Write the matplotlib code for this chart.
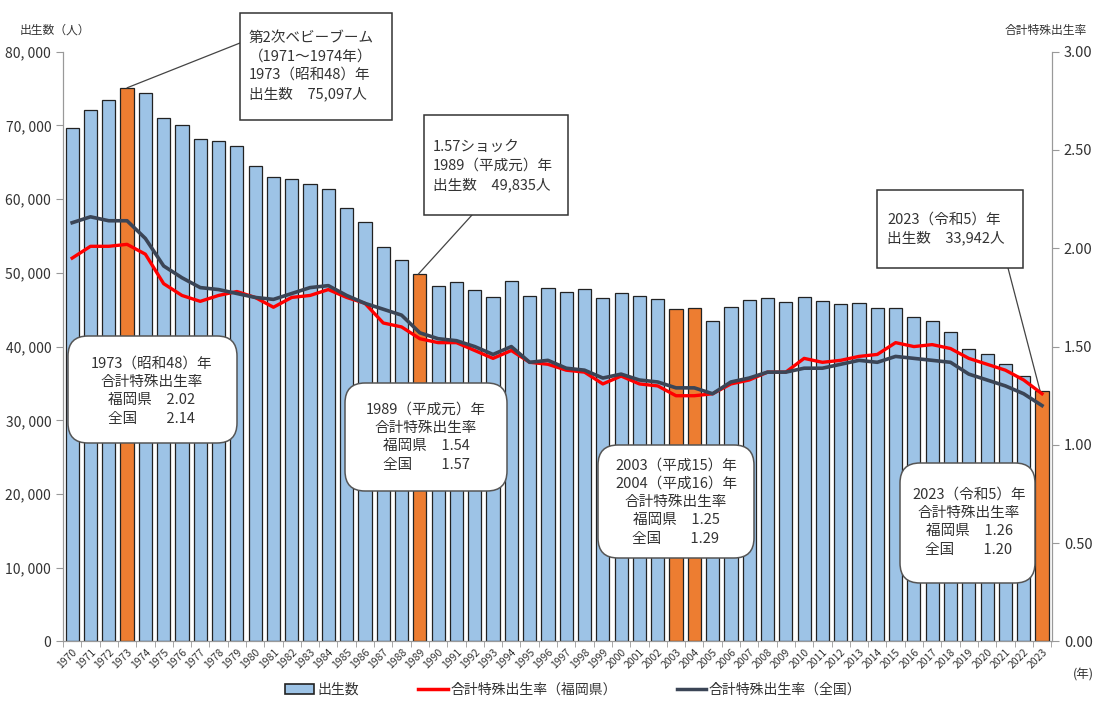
import matplotlib
matplotlib.use("Agg")
import matplotlib.pyplot as plt
from matplotlib.patches import Patch, FancyBboxPatch
from matplotlib.lines import Line2D
from matplotlib.ticker import FuncFormatter
from matplotlib.transforms import IdentityTransform
import numpy as np

plt.rcParams['font.family'] = ['Noto Sans CJK JP', 'DejaVu Sans']

years = list(range(1970, 2024))
births = [69640, 72030, 73480, 75097, 74330, 70990, 70000, 68150, 67830, 67150,
          64450, 63000, 62690, 62010, 61380, 58840, 56960, 53530, 51760, 49835,
          48240, 48780, 47650, 46790, 48910, 46920, 47920, 47460, 47790, 46650,
          47330, 46920, 46510, 45070, 45210, 43510, 45350, 46340, 46650, 46020,
          46790, 46200, 45750, 45890, 45210, 45210, 44070, 43490, 42040, 39730,
          39050, 37610, 36020, 33942]
tfr_fukuoka = [1.95, 2.01, 2.01, 2.02, 1.97, 1.82, 1.76, 1.73, 1.76, 1.78,
               1.75, 1.70, 1.75, 1.76, 1.79, 1.75, 1.72, 1.62, 1.60, 1.54,
               1.52, 1.52, 1.48, 1.44, 1.48, 1.42, 1.41, 1.38, 1.37, 1.31,
               1.35, 1.31, 1.30, 1.25, 1.25, 1.26, 1.31, 1.33, 1.37, 1.37,
               1.44, 1.42, 1.43, 1.45, 1.46, 1.52, 1.50, 1.51, 1.49, 1.44,
               1.41, 1.38, 1.33, 1.26]
tfr_japan = [2.13, 2.16, 2.14, 2.14, 2.05, 1.91, 1.85, 1.80, 1.79, 1.77,
             1.75, 1.74, 1.77, 1.80, 1.81, 1.76, 1.72, 1.69, 1.66, 1.57,
             1.54, 1.53, 1.50, 1.46, 1.50, 1.42, 1.43, 1.39, 1.38, 1.34,
             1.36, 1.33, 1.32, 1.29, 1.29, 1.26, 1.32, 1.34, 1.37, 1.37,
             1.39, 1.39, 1.41, 1.43, 1.42, 1.45, 1.44, 1.43, 1.42, 1.36,
             1.33, 1.30, 1.26, 1.20]
highlight = [1973, 1989, 2003, 2004, 2023]

BLUE = '#9dc3e6'
ORANGE = '#ed7d31'
RED = '#ff0000'
NAVY = '#3b4556'
TXT = '#333333'
W, H = 1096, 702

fig = plt.figure(figsize=(W / 100, H / 100), dpi=100)
ax = fig.add_axes([0.0575, 0.0862, 0.9024, 0.8402])
ax2 = ax.twinx()
ax.set_zorder(1)
ax2.set_zorder(2)
ax2.patch.set_visible(False)

x = np.arange(len(years))
colors = [ORANGE if y in highlight else BLUE for y in years]
ax.bar(x, births, width=0.72, color=colors, edgecolor='#222222', linewidth=0.9)

ax2.plot(x, tfr_fukuoka, color=RED, lw=2.4, zorder=3)
ax2.plot(x, tfr_japan, color=NAVY, lw=2.6, zorder=4)

ax.set_xlim(-0.48, len(years) - 0.45)
ax.set_ylim(0, 80000)
ax2.set_ylim(0, 3.0)
ax.set_yticks(range(0, 80001, 10000))
ax.yaxis.set_major_formatter(FuncFormatter(lambda v, p: '0' if v == 0 else f'{int(v):,}'.replace(',', ', ')))
ax2.set_yticks(np.arange(0, 3.01, 0.5))
ax2.yaxis.set_major_formatter(FuncFormatter(lambda v, p: f'{v:.2f}'))

ax.set_xticks(x)
ax.set_xticklabels([str(y) for y in years], rotation=45, ha='right', rotation_mode='anchor',
                   fontsize=7.5, color=TXT)
ax.tick_params(axis='x', length=0, pad=4)
ax.set_xticks(np.arange(-0.5, len(years), 1.0), minor=True)
ax.tick_params(axis='x', which='minor', length=4, color='#999999')
ax.tick_params(axis='y', length=5, color='#999999', labelsize=10, labelcolor=TXT)
ax2.tick_params(axis='y', length=5, color='#999999', labelsize=10.5, labelcolor=TXT)

for a in (ax, ax2):
    a.spines['top'].set_visible(False)
    for s in ('left', 'right', 'bottom'):
        a.spines[s].set_color('#999999')

fig.text(0.018, 0.952, '出生数（人）', fontsize=8.5, color=TXT)
fig.text(0.992, 0.952, '合計特殊出生率', fontsize=8.5, color=TXT, ha='right')
fig.text(0.998, 0.033, '(年)', fontsize=9, color=TXT, ha='right')


def note(box, text, tx, ty, rounded=False, ha='left'):
    # box given as (left, top, right, bottom) in pixels from the top-left corner
    x0, y0, x1, y1 = box
    style = 'round,pad=0,rounding_size=20' if rounded else 'square,pad=0'
    fig.add_artist(FancyBboxPatch((x0, H - y1), x1 - x0, y1 - y0, boxstyle=style,
                                  transform=IdentityTransform(), fc='white',
                                  ec='#555555' if rounded else '#333333', lw=1.1, zorder=10))
    fig.text(tx, H - ty, text, transform=IdentityTransform(), fontsize=10.5, color=TXT,
             ha=ha, va='center', linespacing=1.4, zorder=11)


def leader(i, px, py, dx=0.0):
    ax.annotate('', xy=(i + dx, births[i]), xytext=(px, H - py), textcoords='figure pixels',
                arrowprops=dict(arrowstyle='-', color='#444444', lw=0.9,
                                shrinkA=0, shrinkB=0), annotation_clip=False)


i73 = years.index(1973)
i89 = years.index(1989)
i03 = years.index(2003)
i23 = years.index(2023)

note((240, 13, 392, 120), '第2次ベビーブーム\n（1971～1974年）\n1973（昭和48）年\n出生数　75,097人', 249, 66)
leader(i73, 240, 43)
note((424, 115, 568, 215), '1.57ショック\n1989（平成元）年\n出生数　49,835人', 433, 166)
leader(i89, 472, 215, dx=-0.08)
note((877, 190, 1023, 268), '2023（令和5）年\n出生数　33,942人', 887, 229)
leader(i23, 1008, 268, dx=-0.1)

note((68, 336, 237, 443), '1973（昭和48）年\n合計特殊出生率\n福岡県　%.2f\n全国　　%.2f'
     % (tfr_fukuoka[i73], tfr_japan[i73]), 152, 391, rounded=True, ha='center')
note((345, 383, 507, 491), '1989（平成元）年\n合計特殊出生率\n福岡県　%.2f\n全国　　%.2f'
     % (tfr_fukuoka[i89], tfr_japan[i89]), 426, 437, rounded=True, ha='center')
note((598, 445, 754, 558), '2003（平成15）年\n2004（平成16）年\n合計特殊出生率\n福岡県　%.2f\n全国　　%.2f'
     % (tfr_fukuoka[i03], tfr_japan[i03]), 676, 502, rounded=True, ha='center')
note((900, 463, 1035, 583), '2023（令和5）年\n合計特殊出生率\n福岡県　%.2f\n全国　　%.2f'
     % (tfr_fukuoka[i23], tfr_japan[i23]), 969, 522, rounded=True, ha='center')

handles = [Patch(facecolor=BLUE, edgecolor='#222222', linewidth=1.2),
           Line2D([], [], color=RED, lw=2.5),
           Line2D([], [], color=NAVY, lw=2.5)]
labels = ['出生数', '合計特殊出生率（福岡県）', '合計特殊出生率（全国）']
fig.legend(handles, labels, loc='center', bbox_to_anchor=(0.523, 0.017), ncol=3,
           frameon=False, fontsize=10, handlelength=2.1, handleheight=0.7,
           handletextpad=0.2, columnspacing=4.3, labelcolor=TXT)

fig.savefig('out.png', dpi=100)
